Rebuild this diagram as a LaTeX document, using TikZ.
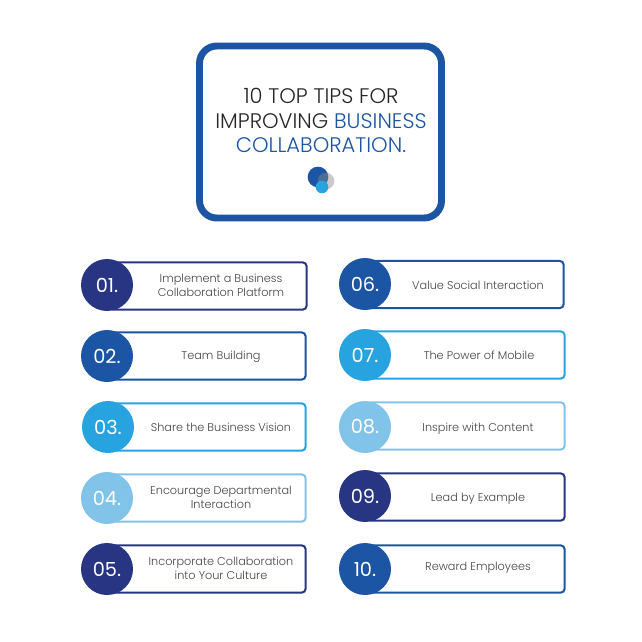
\documentclass[tikz,border=0pt]{standalone}
\usepackage{fontspec}
\setmainfont{Poppins}
\newfontfamily\tiplight{Poppins Light}
\definecolor{navyblue}{RGB}{40,53,131}
\definecolor{midblue}{RGB}{27,85,163}
\definecolor{skyblue}{RGB}{39,164,223}
\definecolor{paleblue}{RGB}{130,195,234}
\definecolor{tiptext}{RGB}{70,70,70}
\tikzset{
  tipbox/.style={draw=#1,fill=white,line width=1.5pt,rounded corners=3pt,inner sep=0pt},
  tipdot/.style={circle,fill=#1,inner sep=0pt,minimum size=39pt,text=white,font=\fontsize{14.5}{17}\selectfont},
  tiplabel/.style={align=center,text=tiptext,font=\tiplight\fontsize{8.45}{10.6}\selectfont}
}
\begin{document}
\begin{tikzpicture}[x=0.75pt,y=0.75pt,yscale=-1,xscale=1]
\useasboundingbox (0,0) rectangle (642,642);

%Shape: Title frame
\node (frame) [draw=midblue,fill=white,line width=5.2pt,rounded corners=13pt,minimum width=181.5pt,minimum height=129pt,inner sep=0pt] at (320.5,132) {};
%Shape: Logo circles
\node (logoa) [circle,fill=midblue,inner sep=0pt,minimum size=15.5pt] at (318,177) {};
\node (logob) [circle,fill=black!45,fill opacity=0.45,inner sep=0pt,minimum size=12.5pt] at (326,181) {};
\node (logoc) [circle,fill=skyblue,inner sep=0pt,minimum size=9.5pt] at (322,187) {};

% Text Node
\node (title) [align=center,text=black!85,font=\tiplight\fontsize{15.8}{18.6}\selectfont] at (321,120.5) {10 TOP TIPS FOR\\IMPROVING \textcolor{midblue}{BUSINESS}\\\textcolor{midblue}{COLLABORATION.}};

%Shape: Left column boxes
\node (box01) [tipbox=navyblue,minimum width=148pt,minimum height=35.5pt] at (208,286) {};
\node (box02) [tipbox=midblue,minimum width=148pt,minimum height=35.5pt] at (207,356) {};
\node (box03) [tipbox=skyblue,minimum width=148pt,minimum height=35.5pt] at (207,427) {};
\node (box04) [tipbox=paleblue,minimum width=148pt,minimum height=35.5pt] at (207,498) {};
\node (box05) [tipbox=navyblue,minimum width=148pt,minimum height=35.5pt] at (207,569) {};
%Shape: Right column boxes
\node (box06) [tipbox=midblue,minimum width=148pt,minimum height=35.5pt] at (465,284.5) {};
\node (box07) [tipbox=skyblue,minimum width=148pt,minimum height=35.5pt] at (466,355) {};
\node (box08) [tipbox=paleblue,minimum width=148pt,minimum height=35.5pt] at (466,426) {};
\node (box09) [tipbox=navyblue,minimum width=148pt,minimum height=35.5pt] at (466,497) {};
\node (box10) [tipbox=midblue,minimum width=148pt,minimum height=35.5pt] at (466,569) {};

%Shape: Number circles
\node (dot01) [tipdot=navyblue] at (107,285) {01.};
\node (dot02) [tipdot=midblue] at (107,356) {02.};
\node (dot03) [tipdot=skyblue] at (108,427) {03.};
\node (dot04) [tipdot=paleblue] at (107,498) {04.};
\node (dot05) [tipdot=navyblue] at (107,569) {05.};
\node (dot06) [tipdot=midblue] at (365,284) {06.};
\node (dot07) [tipdot=skyblue] at (365,355) {07.};
\node (dot08) [tipdot=paleblue] at (365,427) {08.};
\node (dot09) [tipdot=navyblue] at (365,496) {09.};
\node (dot10) [tipdot=midblue] at (365,569) {10.};

% Text Node
\node (tip01) [tiplabel] at (221,285) {Implement a Business\\Collaboration Platform};
% Text Node
\node (tip02) [tiplabel] at (221,357) {Team Building};
% Text Node
\node (tip03) [tiplabel] at (221,427) {Share the Business Vision};
% Text Node
\node (tip04) [tiplabel] at (221,497) {Encourage Departmental\\Interaction};
% Text Node
\node (tip05) [tiplabel] at (221,568) {Incorporate Collaboration\\into Your Culture};
% Text Node
\node (tip06) [tiplabel] at (478,285) {Value Social Interaction};
% Text Node
\node (tip07) [tiplabel] at (479,355) {The Power of Mobile};
% Text Node
\node (tip08) [tiplabel] at (478,429) {Inspire with Content};
% Text Node
\node (tip09) [tiplabel] at (478,499) {Lead by Example};
% Text Node
\node (tip10) [tiplabel] at (478,568) {Reward Employees};

\end{tikzpicture}
\end{document}
